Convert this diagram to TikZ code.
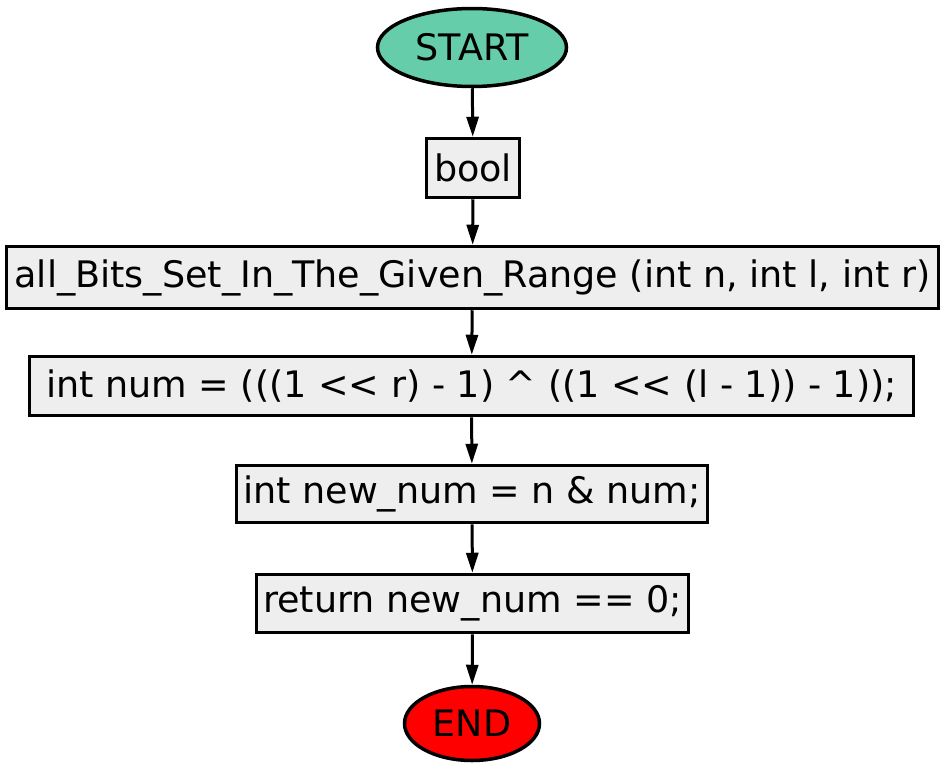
\documentclass[tikz,border=0pt]{standalone}
\usepackage{fontspec}
\setmainfont{DejaVu Sans}
\usetikzlibrary{shapes.geometric,arrows.meta}
\definecolor{startc}{HTML}{66CDAA}
\definecolor{endc}{HTML}{FF0000}
\definecolor{boxc}{HTML}{EEEEEE}
\tikzset{
  procbox/.style={draw=black, line width=3.5pt, fill=boxc, rectangle, inner sep=0pt, font=\fontsize{36.5}{42}\selectfont},
  term/.style={draw=black, line width=3.5pt, ellipse, inner sep=0pt, font=\fontsize{36.5}{42}\selectfont},
  flow/.style={line width=3pt, -{Triangle[length=20pt,width=12pt]}}
}
\begin{document}
\begin{tikzpicture}[x=1pt,y=-1pt]
\useasboundingbox (0,0) rectangle (945,774);
\node[term, fill=startc, minimum width=189pt, minimum height=78pt] (start) at (472,47.5) {START};
\node[procbox, minimum width=93pt, minimum height=59pt] (bool) at (473,168) {bool};
\node[procbox, minimum width=932pt, minimum height=62pt] (func) at (472.5,277.5) {all\_Bits\_Set\_In\_The\_Given\_Range (int n, int l, int r)};
\node[procbox, minimum width=884pt, minimum height=59pt] (num) at (471.5,386) {int num = (((1 {<}{<} r) - 1) \^{} ((1 {<}{<} (l - 1)) - 1));};
\node[procbox, minimum width=471pt, minimum height=57pt] (newnum) at (472,494) {int new\_num = n \& num;};
\node[procbox, minimum width=432pt, minimum height=58pt] (ret) at (472.5,603.5) {return new\_num == 0;};
\node[term, fill=endc, minimum width=135pt, minimum height=74pt] (end) at (472,723.5) {END};
\draw[flow] (start) -- (bool);
\draw[flow] (bool) -- (func);
\draw[flow] (func) -- (num);
\draw[flow] (num) -- (newnum);
\draw[flow] (newnum) -- (ret);
\draw[flow] (ret) -- (end);
\end{tikzpicture}
\end{document}
